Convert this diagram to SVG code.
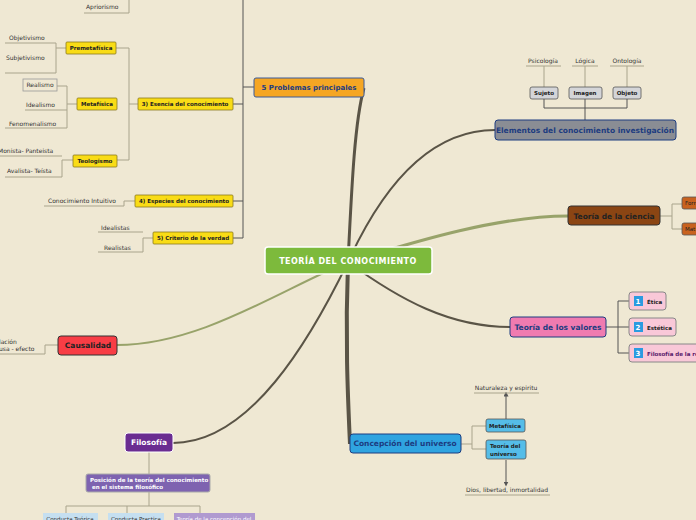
<svg xmlns="http://www.w3.org/2000/svg" width="696" height="520" viewBox="0 0 696 520">
<defs>
<style>
text{font-family:"DejaVu Sans",Verdana,sans-serif}
.t{font-size:6px;fill:#333}
.b{font-size:5.5px;font-weight:bold;fill:#222}
.y{fill:#f9dc16;stroke:#8a7a20;stroke-width:0.8}
.g{fill:#d4d5d8;stroke:#555;stroke-width:0.8}
.ln{fill:none;stroke:#a9a48c;stroke-width:1}
.dk{fill:none;stroke:#555;stroke-width:1}
.br{fill:none;stroke:#5a5446}
</style>
<marker id="ar" viewBox="0 0 6 6" refX="3" refY="3" markerWidth="5" markerHeight="5" orient="auto"><path d="M0,0L6,3L0,6z" fill="#555"/></marker>
</defs>
<rect width="696" height="520" fill="#efe8d3"/>
<g id="connectors">
<path d="M348,262 C352,180 355,120 364,88" class="br" stroke-width="3"/>
<path d="M348,262 C390,170 440,130 495,130" class="br" stroke-width="2"/>
<path d="M348,262 C420,240 500,216 568,216" fill="none" stroke="#98a36a" stroke-width="3"/>
<path d="M348,262 C400,300 450,327 510,327" class="br" stroke-width="2"/>
<path d="M348,262 C345,340 348,400 350,444" class="br" stroke-width="4"/>
<path d="M348,262 C280,290 200,345 117,345" fill="none" stroke="#98a36a" stroke-width="2"/>
<path d="M348,262 C310,340 250,443 173,443" class="br" stroke-width="2"/>
<path d="M243,0V238M243,87H254M233,104H243M233,201H243M233,238H243" class="dk"/>
<path d="M129,0V13H84" class="ln"/>
<path d="M116,48H129V160H116M129,104H138M67,48H56M56,43V73M5,43H56M5,73H56" class="ln"/>
<path d="M77,104H67M67,86V128M57,86H67M25,110H67M5,128H67" class="ln"/>
<path d="M73,160H62V177H5M62,156H0" class="ln"/>
<path d="M135,201H124V206H44" class="ln"/>
<path d="M153,238H143V252H98M143,232H98" class="ln"/>
<path d="M585,120V108H544V99M585,108H627V99M585,108V99" class="dk"/>
<path d="M526,66H561M572,66H598M610,66H644M544,66V87M585,66V87M627,66V87" class="ln"/>
<path d="M660,216H672V204H682M672,216V229H682" class="ln"/>
<path d="M606,327H618V301H629M618,327H629M618,327V353H629" class="dk"/>
<path d="M461,444H472V426H486M472,444V449H486" class="ln"/>
<path d="M506,419V394" class="dk" marker-end="url(#ar)"/>
<path d="M506,460V484" class="dk" marker-end="url(#ar)"/>
<path d="M474,393H539M465,495H550" class="ln"/>
<path d="M58,345H45V354H0" class="ln"/>
<path d="M149,452V474M149,492V506H66V513M149,506H200V513M127,506V513" class="ln"/>
</g>
<g id="center"><rect x="265" y="247" width="167" height="27" rx="3" fill="#7dba3c" stroke="#fff" stroke-width="1.5"/><text x="348" y="264" text-anchor="middle" font-size="8" font-weight="bold" fill="#fff" letter-spacing="0.5">TEORÍA DEL CONOCIMIENTO</text></g>
<g id="problemas"><rect x="254" y="78" width="110" height="19" rx="2" fill="#f5a623" stroke="#3a5a9a"/><text x="309" y="90" text-anchor="middle" font-size="7" font-weight="bold" fill="#1d3c80">5 Problemas principales</text></g>
<g id="apriorismo"><text x="86" y="9" class="t">Apriorismo</text></g>
<g id="premetafisica"><rect x="66" y="42" width="50" height="12" rx="1" class="y"/><text x="91" y="50" text-anchor="middle" class="b">Premetafísica</text><text x="9" y="40" class="t">Objetivismo</text><text x="6" y="60" class="t">Subjetivismo</text></g>
<g id="metafisica1"><rect x="77" y="98" width="40" height="12" rx="1" class="y"/><text x="97" y="106" text-anchor="middle" class="b">Metafísica</text>
<rect x="23" y="79" width="34" height="12" fill="#efe8d3" stroke="#999" stroke-width="0.8"/><text x="40" y="87" text-anchor="middle" class="t">Realismo</text>
<text x="26" y="107" class="t">Idealismo</text><text x="9" y="126" class="t">Fenomenalismo</text></g>
<g id="esencia"><rect x="138" y="98" width="95" height="12" rx="1" class="y"/><text x="185" y="106" text-anchor="middle" class="b">3) Esencia del conocimiento</text></g>
<g id="teologismo"><rect x="73" y="155" width="44" height="12" rx="1" class="y"/><text x="95" y="163" text-anchor="middle" class="b">Teologismo</text><text x="-2" y="153" class="t">Monista- Panteista</text><text x="7" y="173" class="t">Avalista- Teísta</text></g>
<g id="especies"><rect x="135" y="195" width="98" height="12" rx="1" class="y"/><text x="184" y="203" text-anchor="middle" class="b">4) Especies del conocimiento</text><text x="48" y="203" class="t">Conocimiento Intuitivo</text></g>
<g id="criterio"><rect x="153" y="232" width="80" height="12" rx="1" class="y"/><text x="193" y="240" text-anchor="middle" class="b">5) Criterio de la verdad</text><text x="101" y="230" class="t">Idealistas</text><text x="104" y="250" class="t">Realistas</text></g>
<g id="elementos"><rect x="495" y="120" width="181" height="20" rx="3" fill="#8a8d94" stroke="#1d3c80"/><text x="585" y="133" text-anchor="middle" font-size="7.5" font-weight="bold" fill="#1d3c80">Elementos del conocimiento investigación</text>
<rect x="530" y="87" width="28" height="12" rx="2" class="g"/><text x="544" y="95" text-anchor="middle" class="b">Sujeto</text>
<rect x="569" y="87" width="33" height="12" rx="2" class="g"/><text x="585" y="95" text-anchor="middle" class="b">Imagen</text>
<rect x="613" y="87" width="28" height="12" rx="2" class="g"/><text x="627" y="95" text-anchor="middle" class="b">Objeto</text>
<text x="543" y="63" text-anchor="middle" class="t">Psicología</text><text x="585" y="63" text-anchor="middle" class="t">Lógica</text><text x="627" y="63" text-anchor="middle" class="t">Ontología</text></g>
<g id="ciencia"><rect x="568" y="206" width="92" height="19" rx="3" fill="#8b4513" stroke="#333"/><text x="614" y="219" text-anchor="middle" font-size="7.5" font-weight="bold" fill="#222">Teoría de la ciencia</text>
<rect x="682" y="197" width="20" height="12" rx="2" fill="#c8621e" stroke="#555" stroke-width="0.8"/><text x="685" y="205" font-size="5.5" fill="#222">Form</text>
<rect x="682" y="223" width="20" height="12" rx="2" fill="#c8621e" stroke="#555" stroke-width="0.8"/><text x="685" y="231" font-size="5.5" fill="#222">Mat</text></g>
<g id="valores"><rect x="510" y="317" width="96" height="20" rx="3" fill="#f07bb0" stroke="#1d3c80"/><text x="558" y="330" text-anchor="middle" font-size="7.5" font-weight="bold" fill="#1d3c80">Teoría de los valores</text>
<rect x="629" y="292" width="37" height="18" rx="3" fill="#f9c8d8" stroke="#888"/><rect x="634" y="296" width="9" height="10" fill="#2a9be0"/><text x="638" y="304" text-anchor="middle" font-size="7" font-weight="bold" fill="#fff">1</text><text x="647" y="304" font-size="5.5" font-weight="bold" fill="#222">Ética</text>
<rect x="629" y="318" width="47" height="18" rx="3" fill="#f9c8d8" stroke="#888"/><rect x="634" y="322" width="9" height="10" fill="#2a9be0"/><text x="638" y="330" text-anchor="middle" font-size="7" font-weight="bold" fill="#fff">2</text><text x="647" y="330" font-size="5.5" font-weight="bold" fill="#222">Estética</text>
<rect x="629" y="344" width="75" height="18" rx="3" fill="#f9c8d8" stroke="#888"/><rect x="634" y="348" width="9" height="10" fill="#2a9be0"/><text x="638" y="356" text-anchor="middle" font-size="7" font-weight="bold" fill="#fff">3</text><text x="647" y="356" font-size="5.5" font-weight="bold" fill="#5a1a6a">Filosofía de la re</text></g>
<g id="universo"><rect x="350" y="434" width="111" height="19" rx="3" fill="#2fa4e0" stroke="#1d3c80"/><text x="405" y="446" text-anchor="middle" font-size="7.5" font-weight="bold" fill="#1d3c80">Concepción del universo</text>
<rect x="486" y="419" width="39" height="13" rx="2" fill="#55bde8" stroke="#555" stroke-width="0.8"/><text x="505" y="428" text-anchor="middle" class="b">Metafísica</text>
<rect x="486" y="440" width="40" height="19" rx="2" fill="#55bde8" stroke="#555" stroke-width="0.8"/><text x="490" y="448" class="b">Teoría del</text><text x="490" y="456" class="b">universo</text>
<text x="506" y="390" text-anchor="middle" class="t">Naturaleza y espiritu</text><text x="507" y="492" text-anchor="middle" class="t">Dios, libertad, inmortalidad</text></g>
<g id="causalidad"><rect x="58" y="336" width="59" height="19" rx="3" fill="#f83d45" stroke="#333"/><text x="88" y="348" text-anchor="middle" font-size="7.5" font-weight="bold" fill="#222">Causalidad</text><text x="-1" y="344" class="t">lación</text><text x="-1" y="351" class="t">usa - efecto</text></g>
<g id="filosofia"><rect x="125" y="433" width="48" height="19" rx="3" fill="#6a2c91" stroke="#fff"/><text x="149" y="445" text-anchor="middle" font-size="7.5" font-weight="bold" fill="#fff">Filosofía</text></g>
<g id="posicion"><rect x="86" y="474" width="124" height="18" rx="2" fill="#7e63b0" stroke="#aaa"/><text x="90" y="482" font-size="5.5" font-weight="bold" fill="#fff">Posición de la teoría del conocimiento</text><text x="92" y="489" font-size="5.5" font-weight="bold" fill="#fff">en el sistema filosófico</text></g>
<g id="conductas"><rect x="43" y="513" width="55" height="12" fill="#c5dff0"/><text x="70" y="521" text-anchor="middle" font-size="5.5" fill="#333">Conducta Teórica</text>
<rect x="108" y="513" width="56" height="12" fill="#c5dff0"/><text x="136" y="521" text-anchor="middle" font-size="5.5" fill="#333">Conducta Practica</text>
<rect x="174" y="513" width="81" height="12" fill="#b09ad0"/><text x="214" y="521" text-anchor="middle" font-size="5.5" fill="#fff">Teoría de la concepción del</text></g>
</svg>
